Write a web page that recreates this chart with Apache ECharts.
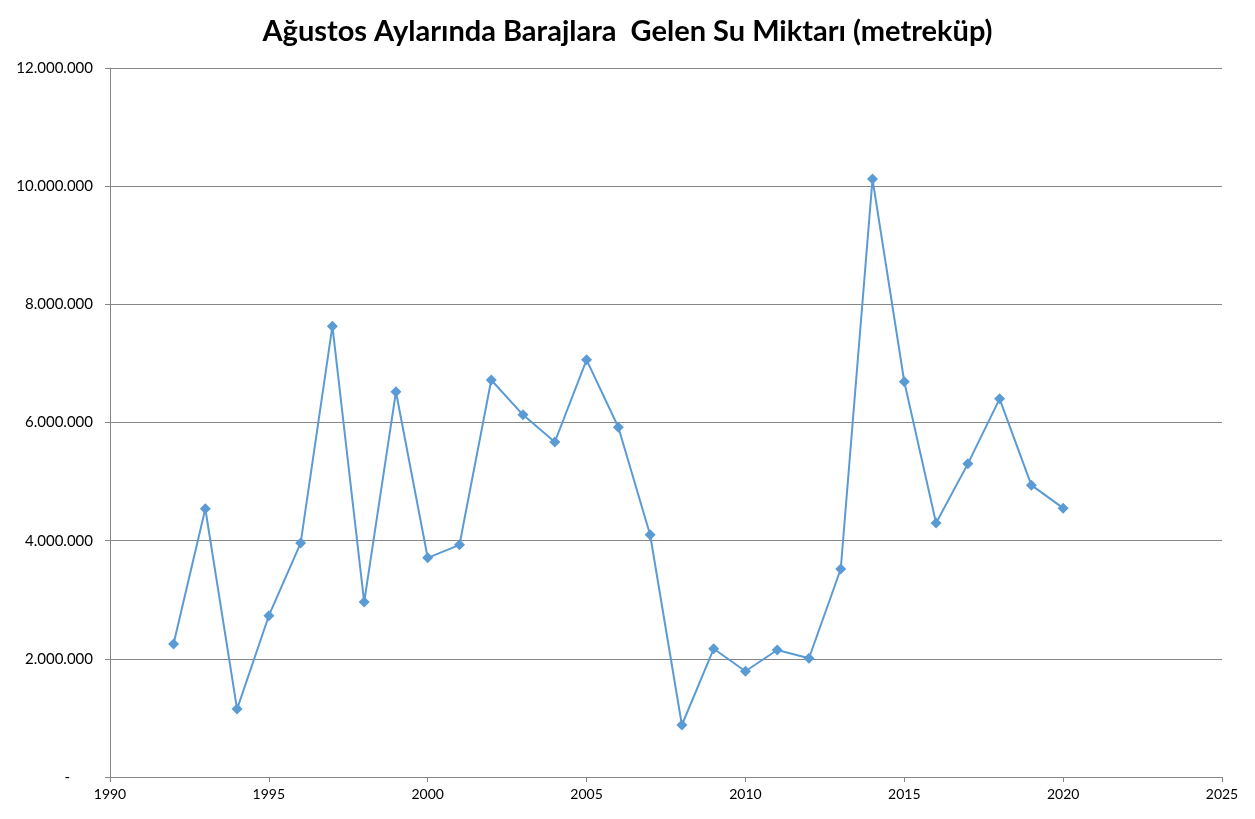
<!DOCTYPE html>
<html>
<head>
<meta charset="utf-8">
<script src="https://cdn.jsdelivr.net/npm/echarts@6/dist/echarts.min.js"></script>
<style>
  html, body { margin: 0; padding: 0; background: #fff; }
  #main { width: 1255px; height: 819px; }
</style>
</head>
<body>
<div id="main"></div>
<script>
// years and monthly inflow (m3)
const years = [1992, 1993, 1994, 1995, 1996, 1997, 1998, 1999, 2000, 2001,
  2002, 2003, 2004, 2005, 2006, 2007, 2008, 2009, 2010, 2011,
  2012, 2013, 2014, 2015, 2016, 2017, 2018, 2019, 2020];
const volumes = [2250000, 4540000, 1150000, 2730000, 3960000, 7630000, 2960000, 6520000, 3710000, 3930000,
  6720000, 6130000, 5670000, 7060000, 5920000, 4100000, 880000, 2170000, 1790000, 2150000,
  2010000, 3520000, 10120000, 6690000, 4300000, 5300000, 6400000, 4940000, 4550000];

const chart = echarts.init(document.getElementById('main'));

const fmtDots = v => {
  if (v === 0) return '-      ';
  return String(v).replace(/\B(?=(\d{3})+(?!\d))/g, '.');
};

const option = {
  animation: false,
  title: {
    text: 'Ağustos Aylarında Barajlara  Gelen Su Miktarı (metreküp)',
    left: 'center',
    top: 12,
    textStyle: {
      fontFamily: 'Lato',
      fontWeight: 'bold',
      fontSize: 29,
      color: '#000'
    }
  },
  grid: { left: 110, right: 33, top: 68, bottom: 42 },
  xAxis: {
    type: 'value',
    min: 1990,
    max: 2025,
    interval: 5,
    axisLine: { show: true, lineStyle: { color: '#868686', width: 1 } },
    axisTick: { show: true, length: 5, lineStyle: { color: '#868686' } },
    axisLabel: { color: '#000', fontFamily: 'Lato', fontSize: 14, margin: 10, formatter: v => String(v) },
    splitLine: { show: false }
  },
  yAxis: {
    type: 'value',
    min: 0,
    max: 12000000,
    interval: 2000000,
    axisLine: { show: true, lineStyle: { color: '#868686', width: 1 } },
    axisTick: { show: true, length: 5, lineStyle: { color: '#868686' } },
    axisLabel: { color: '#000', fontFamily: 'Lato', fontSize: 15, margin: 17, formatter: fmtDots },
    splitLine: { show: true, lineStyle: { color: '#868686', width: 1 } }
  },
  series: [{
    type: 'line',
    data: years.map((y, i) => [y, volumes[i]]),
    symbol: 'diamond',
    symbolSize: 11,
    showAllSymbol: true,
    itemStyle: { color: '#5B9BD5' },
    lineStyle: { color: '#5B9BD5', width: 2 }
  }]
};

chart.setOption(option);
</script>
</body>
</html>
